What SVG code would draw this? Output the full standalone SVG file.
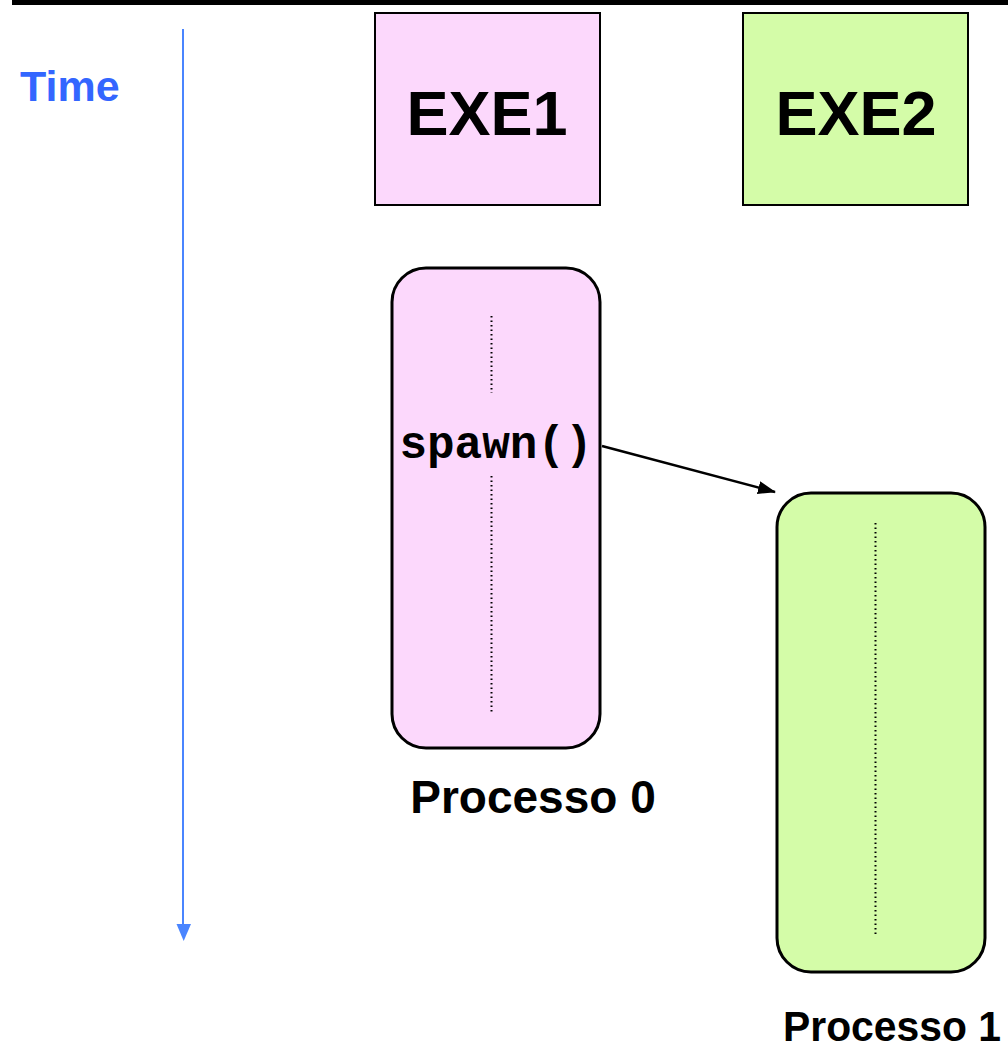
<svg xmlns="http://www.w3.org/2000/svg" width="1008" height="1055" viewBox="0 0 1008 1055">
  <style>
    .exe { stroke: #000; stroke-width: 2; }
    .proc { stroke: #000; stroke-width: 3; }
    .pink { fill: #fcd8fc; }
    .green { fill: #d4fca8; }
    .title { font-family: "Liberation Sans", Arial, sans-serif; font-weight: bold; fill: #000; }
    .dots { stroke: #000; stroke-width: 2; stroke-dasharray: 1.5 3; fill: none; }
    .code { font-family: "Liberation Mono", "Courier New", monospace; font-weight: bold; fill: #000; }
  </style>
  <defs>
    <marker id="arrowBlack" markerWidth="18" markerHeight="13" refX="17" refY="6.5" orient="auto" markerUnits="userSpaceOnUse" viewBox="0 0 18 13">
      <path d="M0,0 L18,6.5 L0,13 Z" fill="#000"/>
    </marker>
  </defs>
  <rect width="1008" height="1055" fill="#fff"/>

  <!-- header rule -->
  <rect x="12" y="0" width="996" height="5" fill="#000"/>

  <!-- time axis -->
  <g id="time-axis">
    <text x="20" y="101" class="title" font-size="43" style="fill:#3366ff">Time</text>
    <line x1="183" y1="29" x2="183" y2="926" stroke="#4a85ff" stroke-width="2"/>
    <path d="M176.5,924 L191,924 L183.7,941 Z" fill="#4a85ff"/>
  </g>

  <g id="exe1">
    <rect x="375" y="13" width="225" height="192" class="exe pink"/>
    <text x="487" y="135" class="title" font-size="63" text-anchor="middle">EXE1</text>
  </g>

  <g id="exe2">
    <rect x="743" y="13" width="225" height="192" class="exe green"/>
    <text x="856" y="135" class="title" font-size="63" text-anchor="middle">EXE2</text>
  </g>

  <g id="processo0">
    <rect x="392" y="268" width="208" height="480" rx="34" ry="34" class="proc pink"/>
    <line x1="491.5" y1="316" x2="491.5" y2="393" class="dots"/>
    <line x1="491.5" y1="476" x2="491.5" y2="713" class="dots"/>
    <text x="496" y="458" class="code" font-size="46" text-anchor="middle">spawn()</text>
    <text x="533" y="813" class="title" font-size="46" text-anchor="middle">Processo 0</text>
  </g>

  <g id="processo1">
    <rect x="777" y="493" width="208" height="479" rx="34" ry="34" class="proc green"/>
    <line x1="875.5" y1="523" x2="875.5" y2="937" class="dots"/>
    <text x="783" y="1041" class="title" font-size="42" textLength="218" lengthAdjust="spacingAndGlyphs">Processo 1</text>
  </g>

  <g id="connectors">
    <line x1="602" y1="446" x2="775" y2="492" stroke="#000" stroke-width="2.5" marker-end="url(#arrowBlack)"/>
  </g>
</svg>
